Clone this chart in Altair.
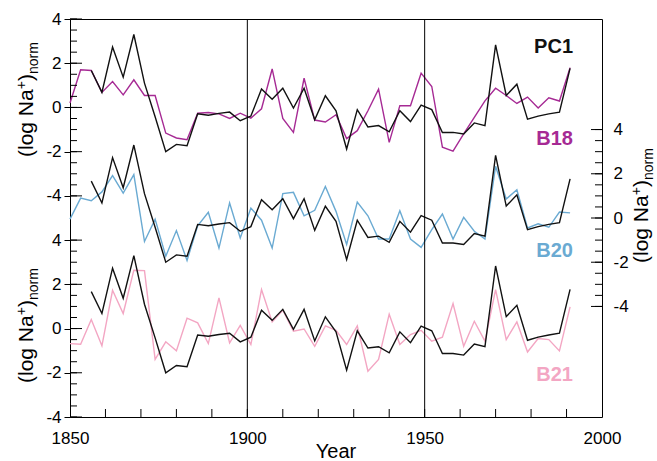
import altair as alt
import pandas as pd

# ---------------- data ----------------
years = list(range(1850, 1992, 3))          # 1850 ... 1991, 3-yr steps
pc1_years = years[2:]                        # PC1 starts 1856

pc1 = [1.67, 0.68, 2.73, 1.37, 3.30, 1.10, -0.42, -2.00, -1.67, -1.73,
       -0.29, -0.35, -0.27, -0.21, -0.60, -0.39, 0.83, 0.37, 0.87, -0.03,
       0.87, -0.56, 0.53, -0.15, -1.88, -0.10, -0.88, -0.82, -1.10, -0.15,
       -0.64, 0.11, -0.10, -1.13, -1.13, -1.20, -0.70, -0.82, 2.83, 0.54,
       1.05, -0.53, -0.39, -0.29, -0.21, 1.77]

b18 = [0.20, 1.70, 1.67, 0.68, 1.17, 0.57, 1.25, 0.54, 0.54, -1.16,
       -1.38, -1.46, -0.26, -0.23, -0.29, -0.50, -0.26, -0.48, -0.06, 1.74,
       -0.50, -1.13, 1.32, -0.57, -0.66, -0.33, -1.41, -1.05, -0.15, 0.83,
       -1.58, 0.08, 0.08, 1.55, 0.95, -1.80, -1.98, -1.20, -0.45, 0.30,
       0.87, 0.54, 0.18, 0.47, -0.03, 0.44, 0.29, 1.80]

b20 = [-0.05, 0.90, 0.78, 1.18, 1.92, 1.13, 1.96, -1.06, -0.05, -1.73,
       -0.57, -1.92, -0.35, 0.26, -1.36, 0.68, -0.90, 0.45, -0.10, -1.36,
       1.10, 1.16, 0.10, 0.35, 1.43, 0.30, -1.20, 0.72, 0.10, -0.95,
       -0.95, 0.33, -0.95, -1.33, -0.53, 0.18, -0.95, 0.03, -0.60, -0.95,
       2.34, 0.86, 1.28, -0.45, -0.26, -0.42, 0.27, 0.23]

b21 = [-0.68, -0.71, 0.41, -0.78, 1.73, 0.68, 2.64, 2.62, -1.39, -0.60,
       -1.01, 0.47, 0.26, -0.68, 1.39, -0.65, 0.14, -0.72, 1.76, 0.30,
       0.83, -0.12, -0.02, -0.80, 0.12, -0.08, -0.72, 0.12, -1.93, -1.40,
       0.65, -0.72, -0.27, -0.08, -0.57, -0.39, 1.13, -0.80, 0.33, -0.57,
       1.76, -0.50, 0.30, -1.06, -0.45, -0.50, -1.01, 0.98]

series_names = ["B18", "B20", "B21"]
series_colors = ["#a62a94", "#6aaad2", "#f3a6c3"]
panel_offsets = [0, -5, -10]          # vertical stacking of the 3 panels

tick_labels = [4, 2, 0, -2, -4]
minor_steps = [4, 3.5, 3, 2.5, 2, 1.5, 1, 0.5, 0, -0.5, -1, -1.5, -2, -2.5, -3, -3.5, -4]
x_tick_labels = [1850, 1900, 1950, 2000]
x_minor = list(range(1860, 2000, 10))
x_vlines = [1900, 1950]

# ---------------- tables ----------------
rows = []
for name, vals, off in zip(series_names, [b18, b20, b21], panel_offsets):
    for yr, v in zip(years, vals):
        rows.append({"year": yr, "v": v + off, "series": name})
col_df = pd.DataFrame(rows)

pc_rows = []
for key, off in zip(["top", "mid", "bot"], panel_offsets):
    for yr, v in zip(pc1_years, pc1):
        pc_rows.append({"year": yr, "v": v + off, "key": key})
pc_df = pd.DataFrame(pc_rows)

left_major = pd.DataFrame({"v": [t + o for o in (0, -10) for t in tick_labels]})
left_minor = pd.DataFrame({"v": [t + o for o in (0, -10) for t in minor_steps]})
right_major = pd.DataFrame({"v": [t - 5 for t in tick_labels]})
right_minor = pd.DataFrame({"v": [t - 5 for t in minor_steps]})
xminor_df = pd.DataFrame({"year": x_minor})
vline_df = pd.DataFrame({"year": x_vlines})

W, H = 532, 398
FONT = "Liberation Sans"

xs = alt.Scale(domain=[1850, 2000], nice=False, zero=False)
ys = alt.Scale(domain=[-14, 4], nice=False, zero=False)

x_axis = alt.Axis(values=x_tick_labels, format="d", ticks=False, domain=False,
                  grid=False, title=None, labelFontSize=17, labelPadding=13,
                  labelFlush=False, labelOverlap=False,
                  labelColor="black", labelFont=FONT)

# ---------------- layers ----------------
left_axis = alt.Axis(values=[t + o for o in (0, -10) for t in tick_labels],
                     labelExpr="'' + (datum.value > -5 ? datum.value : datum.value + 10)",
                     orient="left", tickSize=6, tickColor="black", tickWidth=1,
                     domain=False, grid=False, title=None, labelFontSize=17,
                     labelPadding=3, labelColor="black", labelFont=FONT,
                     labelFlush=False, labelOverlap=False)
right_axis = alt.Axis(values=[t - 5 for t in tick_labels],
                      labelExpr="'' + (datum.value + 5)",
                      orient="right", ticks=False, domain=False, grid=False,
                      title=None, labelFontSize=17, labelPadding=11,
                      labelColor="black", labelFont=FONT, labelAlign="left",
                      labelFlush=False, labelOverlap=False)

col_lines = alt.Chart(col_df).mark_line(strokeWidth=1.4).encode(
    x=alt.X("year:Q", scale=xs, axis=x_axis),
    y=alt.Y("v:Q", scale=ys, axis=None),
    color=alt.Color("series:N", scale=alt.Scale(domain=series_names, range=series_colors),
                    legend=None),
    detail="series:N")

pc_lines = alt.Chart(pc_df).mark_line(strokeWidth=1.4, color="#111111").encode(
    x=alt.X("year:Q", scale=xs, axis=x_axis),
    y=alt.Y("v:Q", scale=ys, axis=None),
    detail="key:N")

lmaj = alt.Chart(left_major).mark_rule(color="black", strokeWidth=1).encode(
    y=alt.Y("v:Q", scale=ys, axis=left_axis), x=alt.value(0), x2=alt.value(12))
lmin = alt.Chart(left_minor).mark_rule(color="black", strokeWidth=1).encode(
    y=alt.Y("v:Q", scale=ys, axis=None), x=alt.value(0), x2=alt.value(7))
rmaj = alt.Chart(right_major).mark_rule(color="black", strokeWidth=1).encode(
    y=alt.Y("v:Q", scale=ys, axis=right_axis), x=alt.value(W - 11), x2=alt.value(W))
rmin = alt.Chart(right_minor).mark_rule(color="black", strokeWidth=1).encode(
    y=alt.Y("v:Q", scale=ys, axis=None), x=alt.value(W - 7), x2=alt.value(W))

xmin = alt.Chart(xminor_df).mark_rule(color="black", strokeWidth=1).encode(
    x=alt.X("year:Q", scale=xs, axis=x_axis), y=alt.value(H - 8), y2=alt.value(H))
vl = alt.Chart(vline_df).mark_rule(color="black", strokeWidth=1).encode(
    x=alt.X("year:Q", scale=xs, axis=x_axis))

# series name labels
name_df = pd.DataFrame({"t": ["PC1"] + series_names,
                        "c": ["#111111"] + series_colors,
                        "yy": [34, 126, 238, 362]})
names = alt.Chart(name_df).mark_text(fontSize=20, fontWeight="bold", font=FONT,
                                     align="right", baseline="alphabetic").encode(
    x=alt.value(503), y=alt.Y("yy:Q", scale=None), text="t:N",
    color=alt.Color("c:N", scale=None))

# axis titles: "(log Na+)norm" pieces, rotated
def ylabel(x0, y0):
    base = dict(angle=270, align="left", baseline="alphabetic", font=FONT, color="black")
    p1 = alt.Chart(pd.DataFrame({"t": ["(log Na"]})).mark_text(fontSize=21, dx=0, **base).encode(
        x=alt.value(x0), y=alt.value(y0), text="t:N")
    p2 = alt.Chart(pd.DataFrame({"t": ["+"]})).mark_text(fontSize=14, dx=67.7, dy=-7.5, **base).encode(
        x=alt.value(x0), y=alt.value(y0), text="t:N")
    p3 = alt.Chart(pd.DataFrame({"t": [")"]})).mark_text(fontSize=21, dx=75.9, **base).encode(
        x=alt.value(x0), y=alt.value(y0), text="t:N")
    p4 = alt.Chart(pd.DataFrame({"t": ["norm"]})).mark_text(fontSize=14, dx=82.9, dy=5, **base).encode(
        x=alt.value(x0), y=alt.value(y0), text="t:N")
    return [p1, p2, p3, p4]

year_title = alt.Chart(pd.DataFrame({"t": ["Year"]})).mark_text(
    fontSize=20, font=FONT, align="center", baseline="alphabetic", color="black").encode(
    x=alt.value(W / 2), y=alt.value(439), text="t:N")

layers = [col_lines, pc_lines, lmaj, lmin, rmaj, rmin, xmin, vl, names, year_title]
layers += ylabel(-37, 138) + ylabel(-37, 364) + ylabel(578, 244)

chart = alt.layer(*layers).resolve_scale(y="independent").properties(
    width=W, height=H,
    autosize=alt.AutoSizeParams(type="none"),
    padding={"left": 70, "top": 19, "right": 55, "bottom": 44},
    background="white",
).configure_view(stroke="black", strokeWidth=1)

chart.save("out.html", embed_options={"renderer": "svg", "actions": False})
